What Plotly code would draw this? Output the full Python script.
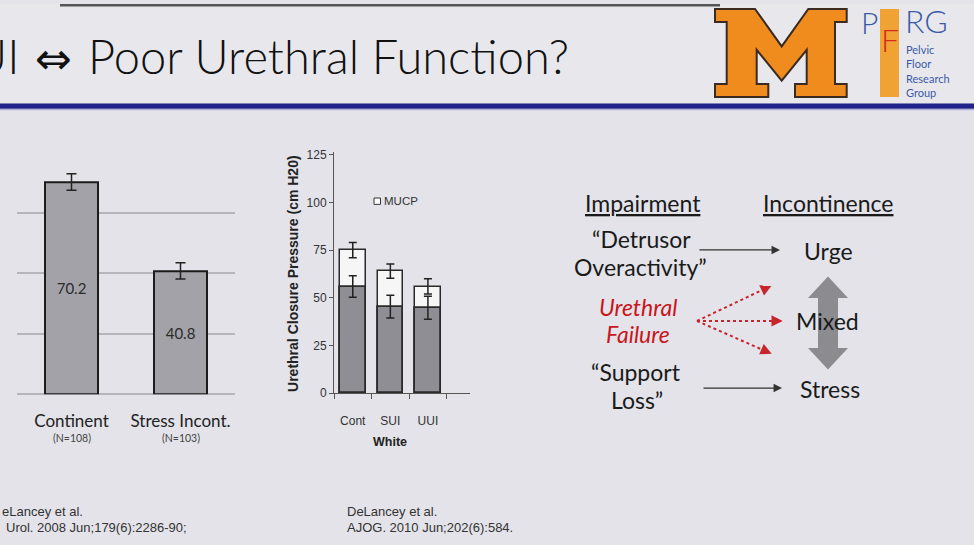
import plotly.graph_objects as go

W, H = 974, 545


def px(x):
    return x / W


def py(y):
    return 1 - y / H


# ---------------- data ----------------
left_categories = ["Continent", "Stress Incont."]
left_values = [70.2, 40.8]
left_errors = [2.7, 2.7]
left_counts = ["(N=108)", "(N=103)"]
left_gridlines = [0, 20, 40, 60]

mid_categories = ["Cont", "SUI", "UUI"]
mucp_values = [75, 64, 56]
mucp_errors = [4, 3.7, 4]
lower_values = [56, 45.4, 44.8]
lower_errors = [5.6, 6, 6]
mid_ticks = [0, 25, 50, 75, 100, 125]

LATO = "Lato"
ARIAL = "Liberation Sans, Arial"

fig = go.Figure()

# left bar chart
fig.add_trace(go.Bar(
    x=left_categories, y=left_values, xaxis="x", yaxis="y",
    marker=dict(color="#a2a2a8", line=dict(color="#1c1c1c", width=2)),
    width=0.48,
    error_y=dict(type="data", array=left_errors, color="#222", thickness=1.5, width=5),
    text=[f"{v}" for v in left_values], textposition="inside", insidetextanchor="middle",
    textfont=dict(family=LATO, size=15, color="#2b2b2b"),
    showlegend=False, hoverinfo="skip",
))

# middle chart: MUCP (white) behind, lower portion (grey) in front
fig.add_trace(go.Bar(
    x=mid_categories, y=mucp_values, xaxis="x2", yaxis="y2", name="MUCP",
    marker=dict(color="#f6f6f6", line=dict(color="#2a2a2a", width=1.5)),
    width=0.68,
    error_y=dict(type="data", array=mucp_errors, color="#222", thickness=1.5, width=4),
    showlegend=False, hoverinfo="skip",
))
fig.add_trace(go.Bar(
    x=mid_categories, y=lower_values, xaxis="x2", yaxis="y2",
    marker=dict(color="#8e8e94", line=dict(color="#2a2a2a", width=1.8)),
    width=0.68,
    error_y=dict(type="data", array=lower_errors, color="#222", thickness=1.5, width=4),
    showlegend=False, hoverinfo="skip",
))

shapes = []
annotations = []

# ---------- background ----------
shapes.append(dict(type="rect", xref="paper", yref="paper", layer="below",
                   x0=0, x1=1, y0=py(101), y1=1, fillcolor="#e8e8ec", line=dict(width=0)))
shapes.append(dict(type="rect", xref="paper", yref="paper", layer="below",
                   x0=px(60), x1=px(720), y0=py(2.5), y1=1, fillcolor="#555555", line=dict(width=0)))
shapes.append(dict(type="rect", xref="paper", yref="paper", layer="below",
                   x0=0, x1=1, y0=py(107), y1=py(101.5), fillcolor="#22228c", line=dict(width=0)))
shapes.append(dict(type="rect", xref="paper", yref="paper", layer="below",
                   x0=0, x1=1, y0=py(108.5), y1=py(107), fillcolor="#8c8cd0", opacity=0.6, line=dict(width=0)))

# ---------- Block M logo ----------
m_pts = [(715, 5), (755, 5), (781.7, 43.3), (808.3, 5), (846.7, 5), (846.7, 18.3), (835, 18.3),
         (835, 81.7), (846.7, 81.7), (846.7, 95), (795, 95), (795, 81.7), (806.7, 81.7),
         (806.7, 46.7), (781.7, 78.3), (756.7, 46.7), (756.7, 81.7), (768.3, 81.7), (768.3, 95),
         (715, 95), (715, 81.7), (726.7, 81.7), (726.7, 18.3), (715, 18.3)]
m_path = "M" + " L".join(f"{px(x):.5f},{py(y):.5f}" for x, y in m_pts) + " Z"
shapes.append(dict(type="path", xref="paper", yref="paper", layer="below", path=m_path,
                   fillcolor="#f08c1e", line=dict(color="#3b2a20", width=2)))
shapes.append(dict(type="rect", xref="paper", yref="paper", layer="below",
                   x0=px(880), x1=px(899), y0=py(95), y1=py(5), fillcolor="#f0a232", line=dict(width=0)))
annotations += [
    dict(text="P", x=px(869), y=py(18), font=dict(family=LATO, size=30, color="#3a5aa8", weight=300)),
    dict(text="F", x=px(890), y=py(36), font=dict(family=LATO, size=32, color="#d42a20", weight=300)),
    dict(text="RG", x=px(903), y=py(17), xanchor="left", font=dict(family=LATO, size=32, color="#3a5aa8", weight=300)),
    dict(text="Pelvic<br>Floor<br>Research<br>Group", x=px(904), y=py(68), xanchor="left", align="left",
         font=dict(family=LATO, size=11, color="#3a5aa8")),
]

# ---------- title ----------
tfont = dict(family=LATO, size=47, color="#111111", weight=300)
annotations += [
    dict(text="UI", x=px(21), y=py(53), xanchor="right", font=tfont),
    dict(text="⇔", x=px(53.5), y=py(56), font=dict(family="DejaVu Sans", size=44, color="#111111")),
    dict(text="Poor Urethral Function?", x=px(86), y=py(53), xanchor="left", font=tfont),
]

# ---------- left chart extras ----------
for c, n in zip(left_categories, left_counts):
    annotations.append(dict(text=n, xref="x", x=c, y=py(443),
                            font=dict(family=LATO, size=10.5, color="#444")))

# ---------- middle chart extras ----------
shapes.append(dict(type="rect", xref="paper", yref="paper", x0=px(374), x1=px(380.5),
                   y0=py(204.5), y1=py(198), fillcolor="#ffffff", line=dict(color="#333", width=1)))
annotations += [
    dict(text="MUCP", x=px(382), y=py(201), xanchor="left", font=dict(family=ARIAL, size=11.5, color="#333")),
    dict(text="<b>Urethral Closure Pressure (cm H20)</b>", x=px(293), y=py(275.5), textangle=-90,
         font=dict(family=ARIAL, size=14, color="#222")),
    dict(text="<b>White</b>", x=px(390), y=py(447), font=dict(family=ARIAL, size=12.5, color="#222")),
]

# ---------- citations ----------
cfont = dict(family=ARIAL, size=13, color="#333")
for t, x, y in [("eLancey et al.", 0, 518), ("Urol. 2008 Jun;179(6):2286-90;", 4, 534),
                ("DeLancey et al.", 345, 518), ("AJOG. 2010 Jun;202(6):584.", 345, 534)]:
    annotations.append(dict(text=t, x=px(x), y=py(y), xanchor="left", font=cfont))

# ---------- right diagram ----------
dfont = dict(family=LATO, size=23, color="#1a1a1a")
rfont = dict(family=LATO, size=23, color="#c8161d")
ul = "<span style='text-decoration:underline'>{}</span>"
for t, x, y, f in [
    (ul.format("Impairment"), 643, 203, dfont),
    (ul.format("Incontinence"), 828, 203, dfont),
    ("“Detrusor", 641, 240, dfont),
    ("Overactivity”", 640, 268, dfont),
    ("Urge", 828, 252, dfont),
    ("<i>Urethral</i>", 638, 309, rfont),
    ("<i>Failure</i>", 638, 337, rfont),
    ("Mixed", 827, 324, dfont),
    ("“Support", 636, 376, dfont),
    ("Loss”", 637, 404, dfont),
    ("Stress", 830, 393, dfont),
]:
    annotations.append(dict(text=t, x=px(x), y=py(y), font=f))

# gray double arrow (behind "Mixed")
ga = [(828, 278), (848, 300), (838, 300), (838, 351), (848, 351), (828, 373),
      (808, 351), (818, 351), (818, 300), (808, 300)]
shapes.append(dict(type="path", xref="paper", yref="paper", layer="below",
                   path="M" + " L".join(f"{px(x):.5f},{py(y):.5f}" for x, y in ga) + " Z",
                   fillcolor="#8c8c90", line=dict(width=0)))

# black arrows
for (x0, y0), (x1, y1) in [((698, 251), (780, 251)), ((702, 392), (782, 392))]:
    annotations.append(dict(text="", x=px(x1), y=py(y1), ax=x0 - x1, ay=y0 - y1, showarrow=True,
                            arrowhead=2, arrowsize=1.3, arrowwidth=1.3, arrowcolor="#333"))

# red dotted arrows
ox, oy = 697, 323.5
for ex, ey in [(771.7, 287.3), (782.7, 323.5), (771.7, 357)]:
    dx, dy = ex - ox, ey - oy
    L = (dx * dx + dy * dy) ** 0.5
    ux, uy = dx / L, dy / L
    shapes.append(dict(type="line", xref="paper", yref="paper", x0=px(ox), y0=py(oy),
                       x1=px(ex - 6 * ux), y1=py(ey - 6 * uy),
                       line=dict(color="#c8242c", width=2, dash="dot")))
    annotations.append(dict(text="", x=px(ex), y=py(ey), ax=-9 * ux, ay=-9 * uy, showarrow=True,
                            arrowhead=2, arrowsize=1.4, arrowwidth=1.6, arrowcolor="#c8242c"))

for a in annotations:
    a.setdefault("xref", "paper")
    a.setdefault("yref", "paper")
    a.setdefault("showarrow", False)
    a.setdefault("xanchor", "center")
    a.setdefault("yanchor", "middle")

fig.update_layout(
    width=W, height=H, margin=dict(l=0, r=0, t=0, b=0),
    paper_bgcolor="#e3e3e9", plot_bgcolor="rgba(0,0,0,0)",
    barmode="overlay", bargap=0, showlegend=False,
    xaxis=dict(domain=[px(17), px(235)], type="category", range=[-0.5, 1.5], anchor="y",
               showgrid=False, showline=False, ticks="", ticklabelstandoff=15,
               tickfont=dict(family=LATO, size=17, color="#222"), fixedrange=True),
    yaxis=dict(domain=[py(398.3), py(151.4)], range=[0, 80], anchor="x", tickvals=left_gridlines,
               showticklabels=False, showgrid=True, gridcolor="#b5b5bd", gridwidth=1.5,
               zeroline=True, zerolinecolor="#b5b5bd", zerolinewidth=1.5, showline=False, fixedrange=True),
    xaxis2=dict(domain=[px(334), px(470)], type="category", range=[-0.5, 3.12], anchor="y2",
                tickson="boundaries", ticks="outside", ticklen=5, tickcolor="#555",
                showline=True, linecolor="#555", linewidth=1, showgrid=False, ticklabelstandoff=16,
                tickfont=dict(family=ARIAL, size=12, color="#333"), fixedrange=True),
    yaxis2=dict(domain=[py(397.3), py(151)], range=[0, 126.5], anchor="x2", tickvals=mid_ticks,
                ticks="outside", ticklen=4, tickcolor="#555", showline=True, linecolor="#555",
                linewidth=1, showgrid=False, zeroline=False,
                tickfont=dict(family=ARIAL, size=12, color="#333"), fixedrange=True),
    shapes=shapes, annotations=annotations,
)

fig.write_html(
    "out.html",
    config={"displayModeBar": False},
    post_script="document.body.style.margin='0';document.body.style.overflow='hidden';",
)
